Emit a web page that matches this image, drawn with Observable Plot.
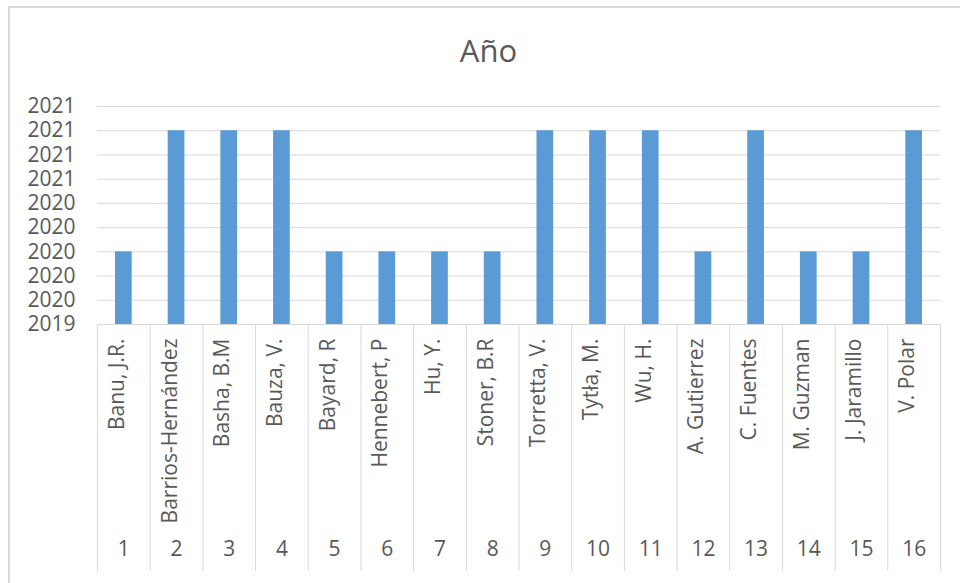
<!DOCTYPE html>
<html>
<head>
<meta charset="utf-8">
<script src="https://cdn.jsdelivr.net/npm/d3@7"></script>
<script src="https://cdn.jsdelivr.net/npm/@observablehq/plot@0.6"></script>
<style>
  html, body { margin: 0; padding: 0; background: #fff; overflow: hidden; }
  #border {
    position: absolute; left: 8px; top: 6px; width: 962px; height: 590px;
    border: 2px solid #d9d9d9; box-sizing: border-box; pointer-events: none;
  }
  #title {
    position: absolute; left: 9px; width: 959px; top: 30px;
    text-align: center; font-family: "Open Sans", sans-serif; font-size: 31px;
    line-height: 40px; color: #595959;
  }
  #chart { position: absolute; left: 0; top: 0; }
</style>
</head>
<body>
<div id="chart"></div>
<div id="title">Año</div>
<div id="border"></div>
<script>
// Publication year per reference, numbered 1–16
const ids = [1, 2, 3, 4, 5, 6, 7, 8, 9, 10, 11, 12, 13, 14, 15, 16];
const authors = [
  "Banu, J.R.", "Barrios-Hernández", "Basha, B.M", "Bauza, V.", "Bayard, R",
  "Hennebert, P", "Hu, Y.", "Stoner, B.R", "Torretta, V.", "Tytła, M.",
  "Wu, H.", "A. Gutierrez", "C. Fuentes", "M. Guzman", "J. Jaramillo", "V. Polar"
];
const years = [2020, 2021, 2021, 2021, 2020, 2020, 2020, 2020, 2021, 2021, 2021, 2020, 2021, 2020, 2020, 2021];
const yTicks = [2019.4, 2019.6, 2019.8, 2020.0, 2020.2, 2020.4, 2020.6, 2020.8, 2021.0, 2021.2];

const data = ids.map((n, i) => ({n, author: authors[i], year: years[i]}));

const W = 960, H = 583;
const mL = 97, mR = 20, mT = 106, mB = 259;
const pad = 0.683;
const step = (W - mL - mR) / ids.length;
const frameH = H - mB - mT;
const yMin = yTicks[0];
const textColor = "#595959";
const gridColor = "#d9d9d9";
const fs = 21;

const chart = Plot.plot({
  width: W,
  height: H,
  marginLeft: mL,
  marginRight: mR,
  marginTop: mT,
  marginBottom: mB,
  style: {background: "transparent", fontFamily: "'Open Sans', sans-serif", fontSize: fs + "px", color: textColor, overflow: "visible"},
  x: {domain: ids, paddingInner: pad, paddingOuter: pad / 2, round: false, axis: null},
  y: {domain: [yTicks[0], yTicks[yTicks.length - 1]], axis: null},
  marks: [
    Plot.ruleY(yTicks, {stroke: gridColor, strokeWidth: 1}),
    Plot.barY(data, {x: "n", y1: yMin, y2: "year", fill: "#5b9bd5"}),
    Plot.axisY(yTicks, {
      tickSize: 0, tickPadding: 22, tickFormat: d => d.toFixed(0),
      fontSize: fs, fill: textColor, label: null
    }),
    // category separators below the plot area
    Plot.ruleX(data, {x: "n", dx: -step / 2, insetTop: frameH, insetBottom: -247, stroke: gridColor}),
    Plot.ruleX(data.slice(-1), {x: "n", dx: step / 2, insetTop: frameH, insetBottom: -247, stroke: gridColor}),
    // author names (rotated) and index numbers
    Plot.text(data, {x: "n", text: "author", frameAnchor: "bottom", rotate: -90, textAnchor: "end", dy: 14, fontSize: fs, fill: textColor}),
    Plot.text(data, {x: "n", text: d => String(d.n), frameAnchor: "bottom", dy: 231, fontSize: fs, fill: textColor})
  ]
});

document.getElementById("chart").appendChild(chart);
</script>
</body>
</html>
